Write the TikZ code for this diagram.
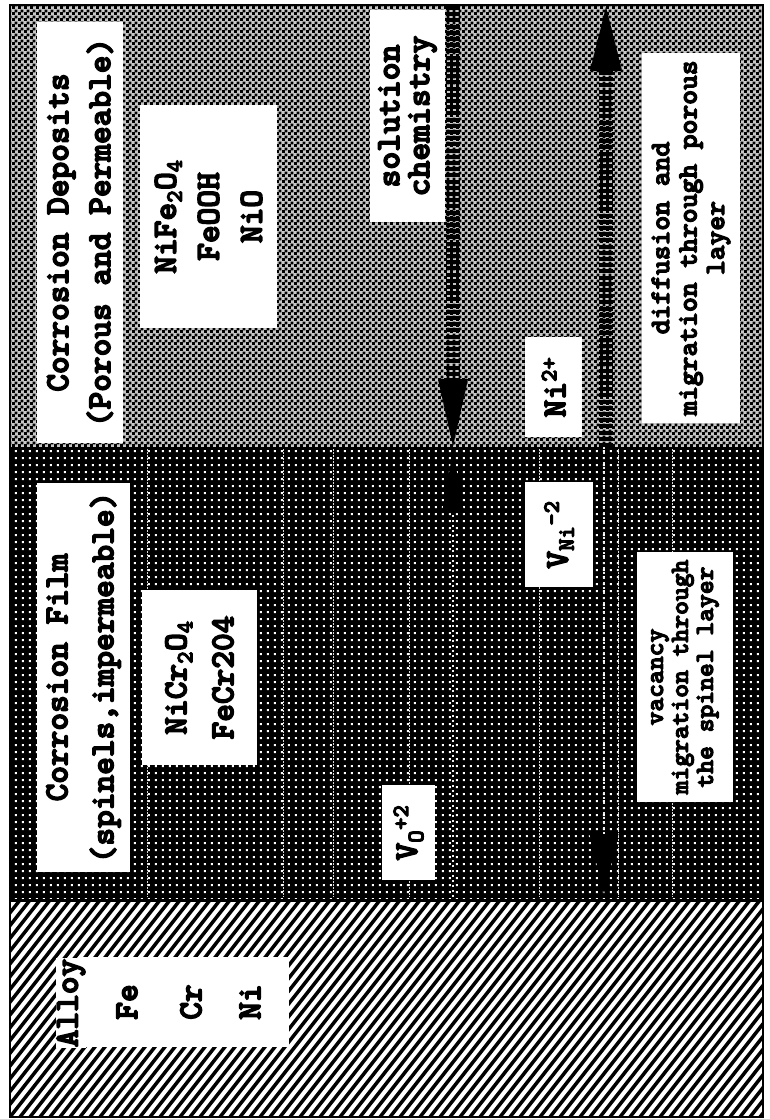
\documentclass[tikz,border=0pt]{standalone}
\usepackage{fontspec}
\newfontfamily\courb{lmmonolt10-bold.otf}[FakeBold=4.2]
\usetikzlibrary{arrows.meta,patterns}
\pgfdeclarepatternformonly{depchk}{\pgfpointorigin}{\pgfpoint{6pt}{6pt}}{\pgfpoint{6pt}{6pt}}{%
  \pgfpathrectangle{\pgfpointorigin}{\pgfpoint{3.4pt}{3.4pt}}%
  \pgfpathrectangle{\pgfpoint{3pt}{3pt}}{\pgfpoint{3.4pt}{3.4pt}}%
  \pgfusepath{fill}}
\pgfdeclarepatternformonly{filmdots}{\pgfpointorigin}{\pgfpoint{6.6pt}{6.6pt}}{\pgfpoint{6.6pt}{6.6pt}}{%
  \pgfpathrectangle{\pgfpoint{2pt}{2pt}}{\pgfpoint{2.2pt}{2.2pt}}%
  \pgfusepath{fill}}
\newcommand\ttbig{\courb\fontsize{33.7pt}{42pt}\selectfont}
\tikzset{
  box/.style={fill=white, rotate=90, inner sep=0pt, align=center, text=black},
  lbl/.style={rotate=90, inner sep=0pt, font=\ttbig},
  thickdash/.style={line width=14pt, dash pattern=on 4pt off 2.2pt, black},
  faint/.style={line width=1.6pt, white!85!gray, dash pattern=on 2pt off 3pt},
  filmline/.style={line width=0.7pt, white!70!gray, dash pattern=on 1.5pt off 1.5pt},
}
\begin{document}
\begin{tikzpicture}[x=1pt,y=-1pt]
\useasboundingbox (0,0) rectangle (769,1119);
\fill[white] (0,0) rectangle (769,1119);
% corrosion deposits layer
\fill[black!22] (10,5) rectangle (763,447);
\fill[pattern=depchk, pattern color=black] (10,5) rectangle (763,447);
% corrosion film layer
\fill[black] (10,447) rectangle (763,900);
\fill[pattern=filmdots, pattern color=white] (10,447) rectangle (763,900);
\foreach \xx in {147,283,333,409,539,618,672}
  \draw[filmline] (\xx,449) -- (\xx,897);
% alloy layer
\fill[white] (10,900) rectangle (763,1117);
\begin{scope}
  \clip (10,900) rectangle (763,1117);
  \foreach \i in {-260,-250,...,770}
    \draw[line width=3.5pt] (\i,1117) -- ++(170,-217);
\end{scope}
\draw[line width=3pt] (10,900) -- (763,900);
\draw[line width=2.5pt] (10,5) rectangle (763,1117);

% text boxes
\node[box, minimum width=421pt, minimum height=86pt, font=\ttbig] (depTitle) at (80,232.5)
  {Corrosion Deposits\\(Porous and Permeable)};
\node[box, minimum width=223pt, minimum height=137pt,
  font={\courb\fontsize{33.7pt}{43pt}\selectfont}] (depComp) at (208.5,216.5)
  {NiFe\textsubscript{2}O\textsubscript{4}\\FeOOH\\NiO};
\node[box, minimum width=212pt, minimum height=75pt,
  font={\courb\fontsize{34pt}{30pt}\selectfont}] (solChem) at (407.5,116)
  {solution\\chemistry};
\node[box, minimum width=100pt, minimum height=57pt, font=\ttbig] (niion) at (553.5,387)
  {Ni\textsuperscript{2+}};
\node[box, minimum width=370pt, minimum height=98pt,
  font={\courb\fontsize{28.2pt}{27.5pt}\selectfont}] (diffBox) at (691,238)
  {diffusion and\\migration through porous\\layer};
\node[box, minimum width=389pt, minimum height=93pt,
  font={\courb\fontsize{33.7pt}{46pt}\selectfont}] (filmTitle) at (83.5,677.5)
  {Corrosion Film\\(spinels,impermeable)};
\node[box, minimum width=175pt, minimum height=115pt,
  font={\courb\fontsize{33.7pt}{47pt}\selectfont}] (filmComp) at (199.5,677.5)
  {NiCr\textsubscript{2}O\textsubscript{4}\\FeCr204};
\node[box, minimum width=95pt, minimum height=53pt, font=\ttbig] (vo) at (408.5,832.5)
  {V\textsubscript{O}\textsuperscript{+2}};
\node[box, minimum width=105pt, minimum height=68pt, font=\ttbig] (vni) at (559,534.5)
  {V\textsubscript{Ni}\textsuperscript{-2}};
\node[box, minimum width=250pt, minimum height=96pt,
  font={\courb\fontsize{26.3pt}{25pt}\selectfont}] (vacBox) at (685,677)
  {vacancy\\migration through\\the spinel layer};
\node[box, minimum width=90pt, minimum height=208pt] (alloyBox) at (185,1002) {};
\node[lbl, fill=white, inner sep=0.5pt] (alloy) at (71,1003) {Alloy};
\node[lbl] (fe) at (127,1002) {Fe};
\node[lbl] (cr) at (191,1002) {Cr};
\node[lbl] (ni) at (250,1002) {Ni};

% arrows
\coordinate (aS) at (453,6);
\coordinate (aE) at (453,446);
\coordinate (bS) at (453,897);
\coordinate (bE) at (453,450);
\coordinate (cS) at (606,447);
\coordinate (cE) at (606,7);
\coordinate (dS) at (604,447);
\coordinate (dE) at (604,894);
\draw[thickdash, -{Triangle[length=67pt,width=30pt,line width=0.1pt]}] (aS) -- (aE);
\draw[faint, -{Triangle[length=63pt,width=22pt,line width=0.1pt,color=black]}] (bS) -- (bE);
\draw[thickdash, -{Triangle[length=64pt,width=32pt,line width=0.1pt]}] (cS) -- (cE);
\draw[faint, -{Triangle[length=60pt,width=29pt,line width=0.1pt,color=black]}] (dS) -- (dE);
\end{tikzpicture}
\end{document}
